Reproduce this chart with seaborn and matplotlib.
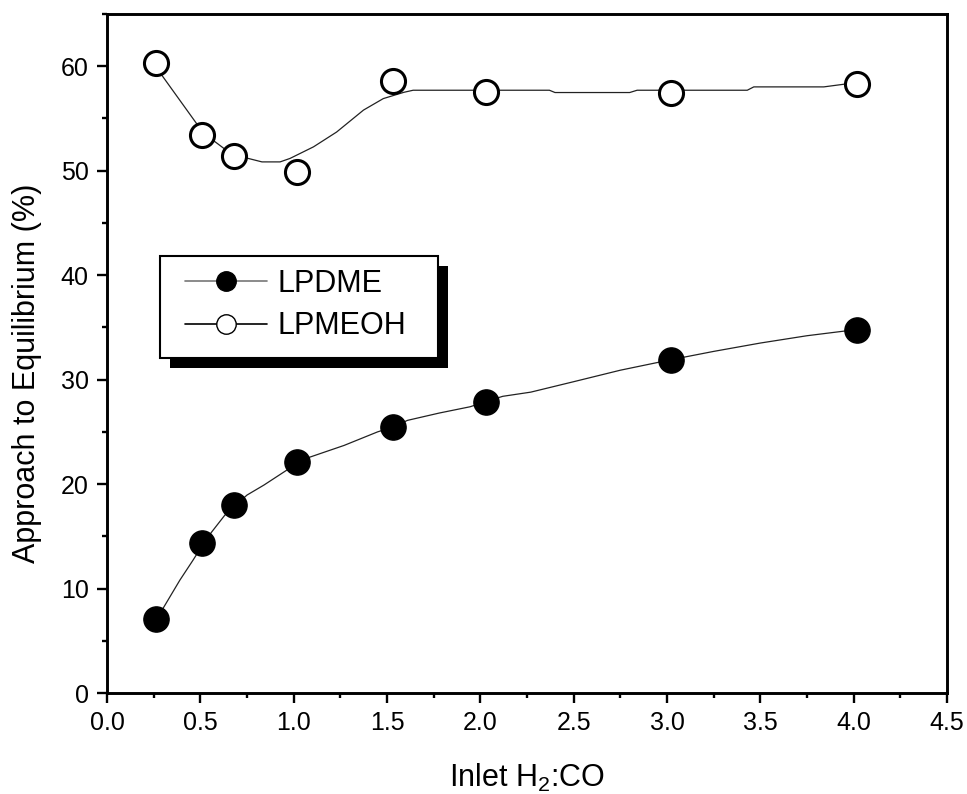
import numpy as np
import pandas as pd
import matplotlib
matplotlib.use("Agg")
import matplotlib.pyplot as plt
import matplotlib.patheffects as pe
from matplotlib.lines import Line2D
from matplotlib.patches import Rectangle
from matplotlib.ticker import MultipleLocator, FormatStrFormatter
import seaborn as sns

ratio = [0.26, 0.51, 0.68, 1.02, 1.53, 2.03, 3.02, 4.02]
lpdme = [7.05, 14.4, 18.0, 22.1, 25.45, 27.9, 31.9, 34.75]
lpmeoh = [60.3, 53.4, 51.4, 49.9, 58.6, 57.5, 57.45, 58.3]

# Smoothed curves drawn through the points
lpdme_curve_x = [0.27, 0.30, 0.39, 0.46, 0.52, 0.56, 0.63, 0.69, 0.75, 0.84,
                 0.96, 1.02, 1.09, 1.27, 1.45, 1.53, 1.61, 1.78, 1.945, 2.03,
                 2.12, 2.27, 2.5, 2.75, 3.02, 3.25, 3.5, 3.75, 4.02]
lpdme_curve_y = [7.05, 8.1, 10.8, 12.7, 14.4, 15.4, 17.0, 18.0, 18.95, 19.9,
                 21.3, 22.1, 22.6, 23.7, 25.0, 25.45, 26.1, 26.8, 27.4, 27.9,
                 28.4, 28.8, 29.8, 30.9, 31.9, 32.7, 33.5, 34.2, 34.8]
lpmeoh_curve_x = [0.27, 0.295, 0.48, 0.52, 0.58, 0.68, 0.757, 0.83, 0.927, 0.98,
                  1.106, 1.23, 1.374, 1.48, 1.59, 1.64, 2.37, 2.40, 2.80, 2.84,
                  3.43, 3.465, 3.84, 3.95, 4.02]
lpmeoh_curve_y = [60.3, 59.1, 54.5, 53.4, 52.75, 51.4, 51.17, 50.84, 50.84, 51.17,
                  52.28, 53.7, 55.8, 56.9, 57.5, 57.7, 57.7, 57.48, 57.48, 57.7,
                  57.7, 58.02, 58.02, 58.28, 58.3]

pts = pd.DataFrame({"ratio": ratio, "LPDME": lpdme, "LPMEOH": lpmeoh})

sns.set_style("ticks")
plt.rcParams["font.family"] = ["Liberation Sans", "DejaVu Sans"]
plt.rcParams["mathtext.fontset"] = "custom"
plt.rcParams["mathtext.rm"] = "Liberation Sans"
plt.rcParams["mathtext.it"] = "Liberation Sans"

fig = plt.figure(figsize=(9.67, 7.94), dpi=100)
ax = fig.add_axes([0.1107, 0.1272, 0.8686, 0.8552])

# -----------------------------
# curves
# -----------------------------
sns.lineplot(x=lpdme_curve_x, y=lpdme_curve_y, sort=False, estimator=None,
             color="#222222", lw=0.9, ax=ax, zorder=2)
sns.lineplot(x=lpmeoh_curve_x, y=lpmeoh_curve_y, sort=False, estimator=None,
             color="#222222", lw=0.9, ax=ax, zorder=2)

# -----------------------------
# markers
# -----------------------------
sns.scatterplot(data=pts, x="ratio", y="LPDME", s=330, color="black",
                edgecolor="black", linewidth=1, ax=ax, zorder=3)
sns.scatterplot(data=pts, x="ratio", y="LPMEOH", s=300, facecolor="white",
                edgecolor="black", linewidth=2.2, ax=ax, zorder=3)

ax.set_xlim(0, 4.5)
ax.set_ylim(0, 65)
ax.xaxis.set_major_locator(MultipleLocator(0.5))
ax.xaxis.set_minor_locator(MultipleLocator(0.25))
ax.yaxis.set_major_locator(MultipleLocator(10))
ax.yaxis.set_minor_locator(MultipleLocator(5))
ax.xaxis.set_major_formatter(FormatStrFormatter("%.1f"))

for s in ax.spines.values():
    s.set_linewidth(2.1)
    s.set_color("black")
ax.tick_params(which="major", direction="out", length=7.2, width=1.7,
               labelsize=18, pad=6, colors="black")
ax.tick_params(which="minor", direction="out", length=3.6, width=1.7,
               colors="black")

ax.set_xlabel("Inlet H$_2$:CO", fontsize=22, labelpad=19, color="black")
ax.set_ylabel("Approach to Equilibrium (%)", fontsize=22, color="black")
ax.yaxis.set_label_coords(-0.077, 0.471)

# -----------------------------
# legend: frame drawn by hand so it can carry a black drop shadow
# -----------------------------
box = Rectangle((0.0631, 0.4934), 0.331, 0.150, transform=ax.transAxes,
                facecolor="white", edgecolor="black", lw=1.5, zorder=4)
box.set_path_effects([
    pe.SimplePatchShadow(offset=(7, -7), shadow_rgbFace="black", alpha=1),
    pe.Normal(),
])
ax.add_patch(box)

handles = [
    Line2D([], [], color="#777777", lw=1.2, marker="o", markersize=14,
           markerfacecolor="black", markeredgecolor="black"),
    Line2D([], [], color="black", lw=1.2, marker="o", markersize=14,
           markerfacecolor="white", markeredgecolor="black", markeredgewidth=1),
]
leg = ax.legend(handles, ["LPDME", "LPMEOH"], loc="upper left",
                bbox_to_anchor=(0.0929, 0.625), borderaxespad=0,
                fontsize=22, frameon=False, labelcolor="black",
                handlelength=2.68, handletextpad=0.33, labelspacing=0.42,
                borderpad=0)
leg.set_zorder(5)

fig.savefig("out.png", dpi=100)
plt.close(fig)
